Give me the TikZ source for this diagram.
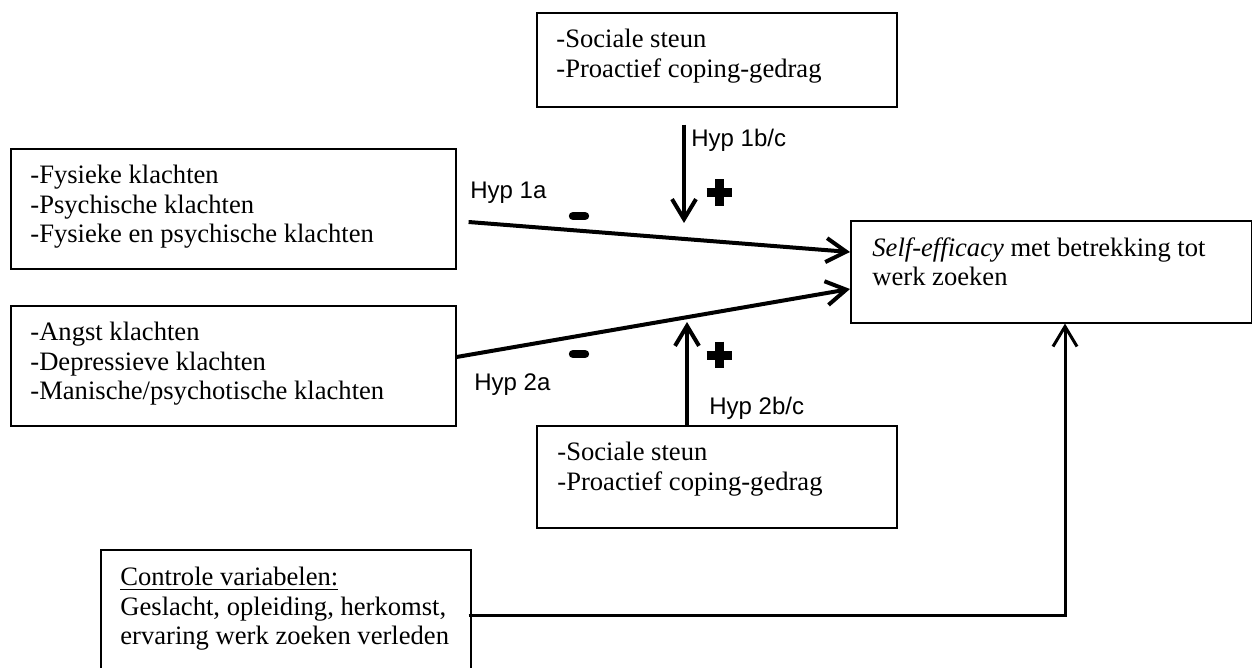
\documentclass[tikz,border=0pt]{standalone}
\usepackage{fontspec}
\setmainfont{Liberation Serif}
\newfontfamily\hypfont{Liberation Sans}
\usetikzlibrary{arrows.meta,calc}
\begin{document}
\begin{tikzpicture}[x=0.5pt,y=-0.5pt,
  box/.style={draw, line width=0.8pt, inner sep=0pt, anchor=north west},
  txt/.style={anchor=north west, align=left, inner sep=0pt, font=\fontsize{13.3}{14.6}\selectfont},
  hyp/.style={anchor=base west, inner sep=0pt, font=\hypfont\fontsize{12}{14}\selectfont},
  arr/.style={line width=2pt, -{Straight Barb[length=10pt,width=12pt]}},
  ctrl/.style={line width=1.5pt, -{Straight Barb[length=10pt,width=12pt]}},
  sign/.style={line width=4.5pt},
  minus/.style={line width=4.2pt, line cap=round}]
\useasboundingbox (0,0) rectangle (1252,668);
\clip (0,0) rectangle (1252,668);
% boxes
\node[box, minimum width=180pt, minimum height=47pt] (T) at (536,12) {};
\node[box, minimum width=222.5pt, minimum height=60pt] (A) at (10,148) {};
\node[box, minimum width=222.5pt, minimum height=60pt] (B) at (10,305) {};
\node[box, minimum width=180pt, minimum height=51pt] (M) at (536,425) {};
\node[box, minimum width=200.5pt, minimum height=51pt] (S) at (850,220) {};
\node[box, minimum width=185pt, minimum height=75.5pt] (C) at (100,549) {};
% texts
\node[txt] (Tt) at (556,29) {-Sociale steun\\-Proactief coping-gedrag};
\node[txt] (At) at (30,165) {-Fysieke klachten\\-Psychische klachten\\-Fysieke en psychische klachten};
\node[txt] (Bt) at (30,322) {-Angst klachten\\-Depressieve klachten\\-Manische/psychotische klachten};
\node[txt] (Mt) at (557,442) {-Sociale steun\\-Proactief coping-gedrag};
\node[txt] (St) at (872,237) {\textit{Self-efficacy} met betrekking tot\\werk zoeken};
\node[txt] (Ct) at (120,567) {\underline{Controle variabelen:}\\Geslacht, opleiding, herkomst,\\ervaring werk zoeken verleden};
% hypothesis labels
\node[hyp] (h1a) at (470,199) {Hyp 1a};
\node[hyp] (h1b) at (691,147) {Hyp 1b/c};
\node[hyp] (h2a) at (474,390) {Hyp 2a};
\node[hyp] (h2b) at (709,414) {Hyp 2b/c};
% connectors
\coordinate (a1s) at ($(A.north east)+(12,74)$);
\coordinate (a1e) at ($(S.north west)+(0,32)$);
\coordinate (a2s) at ($(B.north east)+(0,52)$);
\coordinate (a2e) at ($(S.north west)+(0,69)$);
\coordinate (d1s) at ($(T.south west)+(148,17)$);
\coordinate (d1e) at (684,223);
\coordinate (u1s) at ($(M.north west)+(151,0)$);
\coordinate (u1e) at (687,322);
\coordinate (cs) at ($(C.north east)+(-3,66)$);
\coordinate (ce) at ($(S.south west)+(215,0)$);
\draw[arr] (a1s) -- (a1e);
\draw[arr] (a2s) -- (a2e);
\draw[arr] (d1s) -- (d1e);
\draw[arr] (u1s) -- (u1e);
\draw[ctrl] (cs) -| (ce);
% signs
\draw[minus] (573,216) -- (585,216);
\draw[minus] (573,354) -- (585,354);
\draw[sign] (706.7,192.5) -- (731.7,192.5) (719,179.3) -- (719,206);
\draw[sign] (706.7,355) -- (731.7,355) (719,341.7) -- (719,368.3);
\end{tikzpicture}
\end{document}
